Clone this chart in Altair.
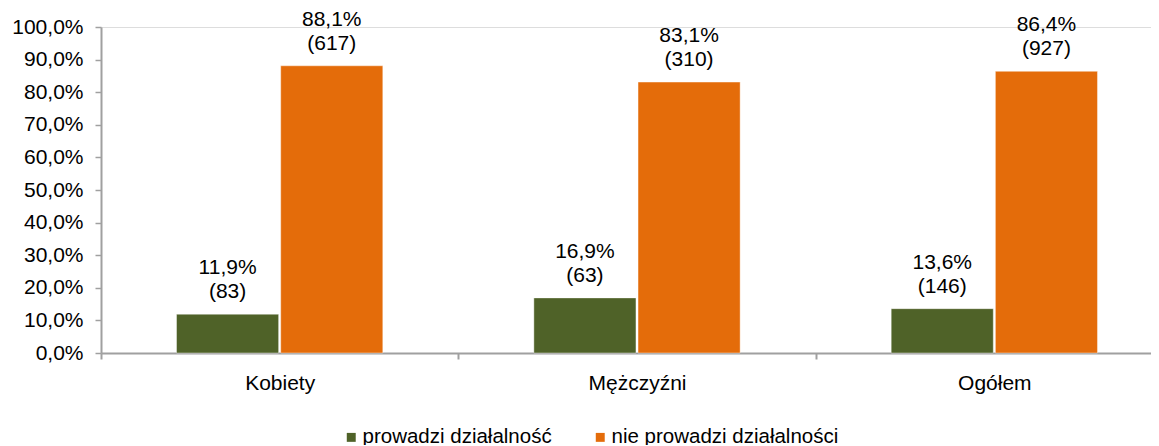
import altair as alt
import pandas as pd

categories = ["Kobiety", "Mężczyźni", "Ogółem"]
series = ["prowadzi działalność", "nie prowadzi działalności"]
pct_prowadzi = [11.9, 16.9, 13.6]
pct_nie = [88.1, 83.1, 86.4]
n_prowadzi = [83, 63, 146]
n_nie = [617, 310, 927]
colors = ["#4F6228", "#E46C0A"]

rows = []
for i, c in enumerate(categories):
    for s, p, n in ((series[0], pct_prowadzi[i], n_prowadzi[i]), (series[1], pct_nie[i], n_nie[i])):
        rows.append({
            "kat": c,
            "seria": s,
            "val": p / 100.0,
            "label": f"{p:.1f}%".replace(".", ",") + f"\n({n})",
        })
df = pd.DataFrame(rows)

FONT = "Liberation Sans"
GRAY = "#A0A0A0"

x_axis = alt.Axis(
    tickBand="extent",
    ticks=True,
    tickSize=6,
    tickColor=GRAY,
    tickWidth=2,
    domainColor=GRAY,
    domainWidth=2,
    labelAngle=0,
    labelFontSize=21,
    labelFont=FONT,
    labelColor="#000000",
    labelPadding=13,
    grid=False,
)
y_axis = alt.Axis(
    values=[i / 10 for i in range(11)],
    labelExpr="replace(format(datum.value, '.1%'), '.', ',')",
    labelOverlap=False,
    grid=False,
    ticks=True,
    tickSize=6,
    tickColor=GRAY,
    tickWidth=1.5,
    domainColor=GRAY,
    domainWidth=2,
    labelFontSize=21,
    labelFont=FONT,
    labelColor="#000000",
    labelPadding=12,
)


def x_enc():
    return alt.X("kat:N", sort=categories, title=None,
                 scale=alt.Scale(paddingInner=0, paddingOuter=0, range=[0, 1072]),
                 axis=x_axis)


def y_enc():
    return alt.Y("val:Q", title=None,
                 scale=alt.Scale(domain=[0, 1], nice=False), axis=y_axis)


def xoff():
    return alt.XOffset("seria:N", sort=series,
                       scale=alt.Scale(paddingInner=0.02, paddingOuter=0.725))


bars = alt.Chart(df).mark_bar(stroke="white", strokeOpacity=0.4, strokeWidth=1).encode(
    x=x_enc(),
    xOffset=xoff(),
    y=y_enc(),
    color=alt.Color(
        "seria:N",
        sort=series,
        scale=alt.Scale(domain=series, range=colors),
        legend=alt.Legend(
            title=None,
            orient="none",
            legendX=240,
            legendY=400,
            direction="horizontal",
            symbolType="square",
            symbolSize=80,
            symbolStrokeWidth=0,
            labelFontSize=20.5,
            labelFont=FONT,
            labelColor="#000000",
            labelLimit=0,
            labelOffset=1,
            columnPadding=38,
        ),
    ),
)

texts = alt.Chart(df).mark_text(
    baseline="alphabetic",
    align="center",
    dy=-40,
    fontSize=21,
    font=FONT,
    color="#000000",
    lineBreak="\n",
    lineHeight=24,
).encode(
    x=x_enc(),
    xOffset=xoff(),
    y=y_enc(),
    text="label:N",
)

chart = (
    alt.layer(bars, texts)
    .properties(
        width=1050,
        height=326,
        autosize=alt.AutoSizeParams(type="none"),
        padding={"left": 93, "top": 19, "right": 0, "bottom": 92},
    )
    .configure_view(strokeWidth=0, stroke="transparent")
    .configure(background="white")
)

chart.save("out.html", embed_options={"renderer": "svg", "actions": False})
